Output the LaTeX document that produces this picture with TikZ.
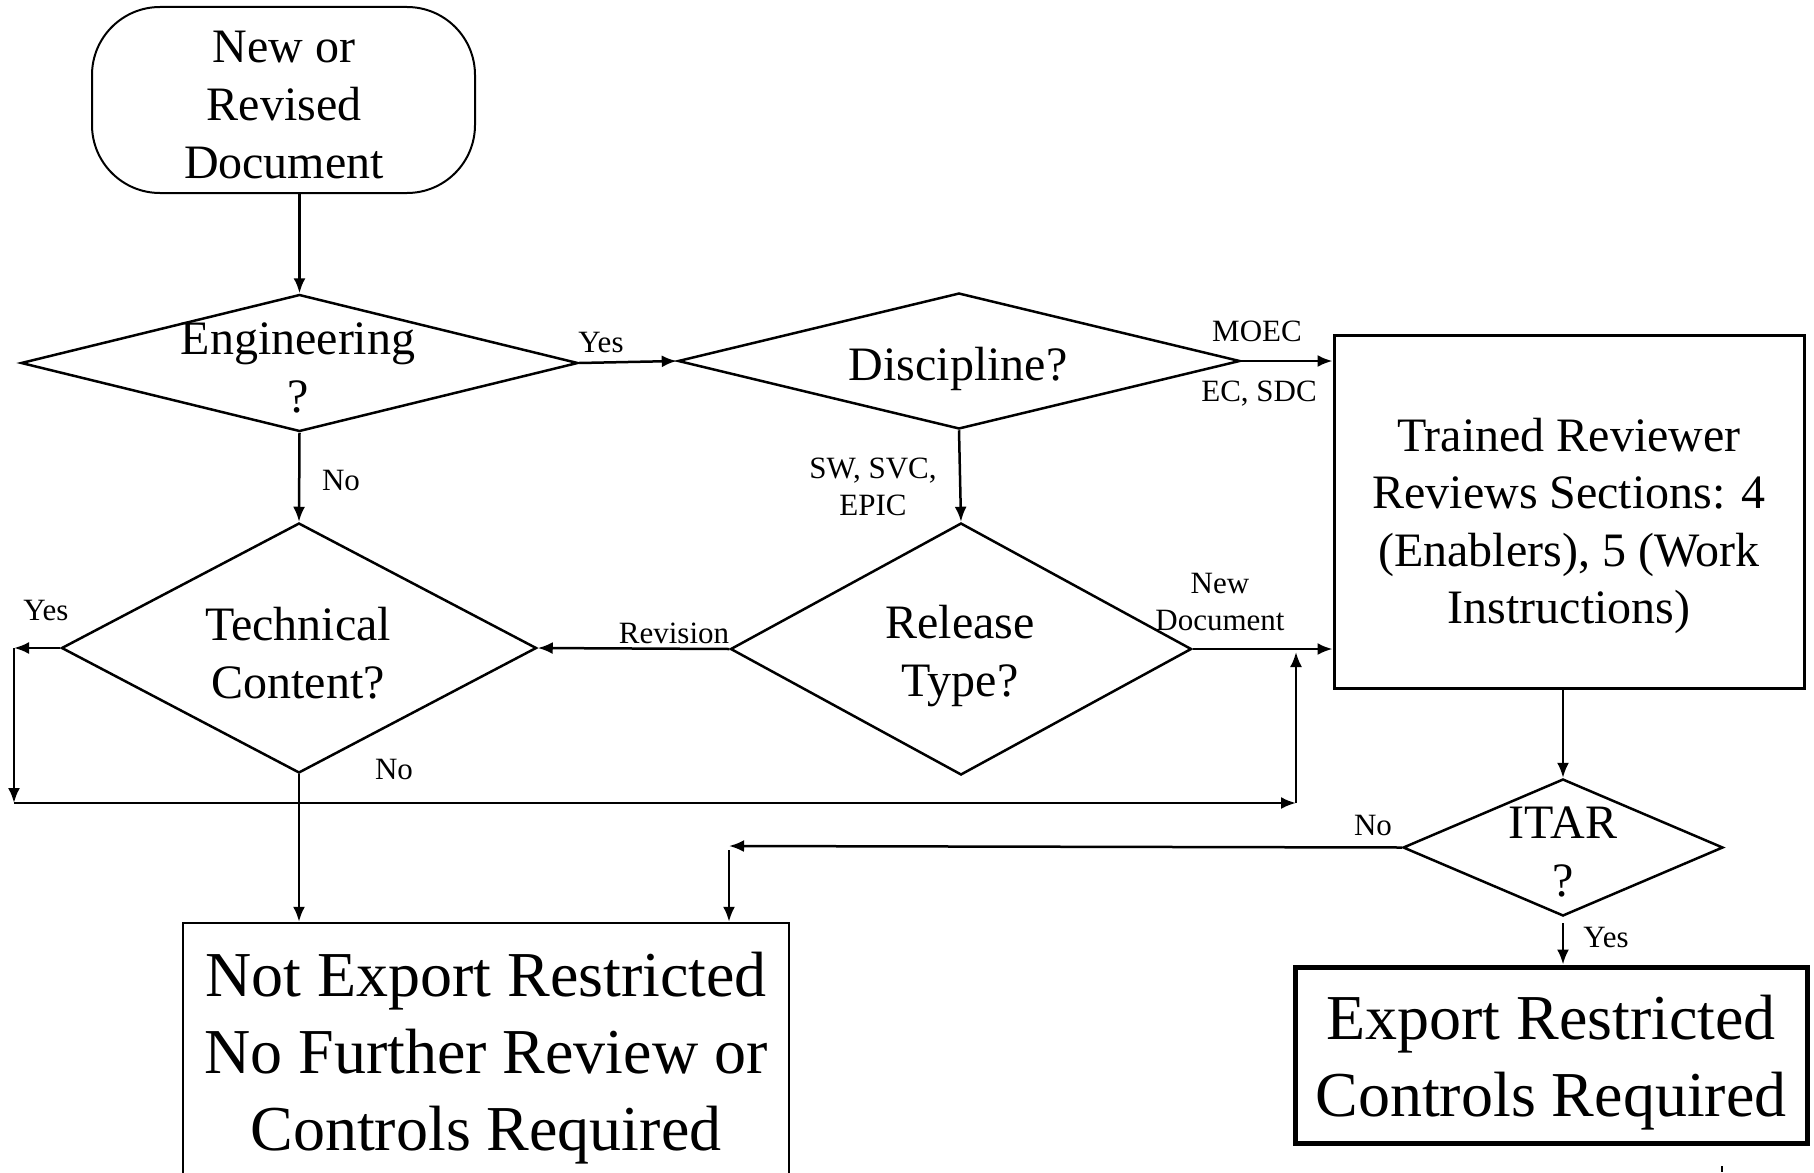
\documentclass[tikz,border=0pt]{standalone}
\usepackage{fontspec}
\setmainfont{Liberation Serif}
\usetikzlibrary{shapes.geometric,arrows.meta}
\begin{document}
\begin{tikzpicture}[
	x=1pt,
	y=-1pt,
	line width=2.5pt,
	>={Latex[length=15pt,width=12pt]},
	big/.style={font=\fontsize{48}{57.6}\selectfont, align=center, inner sep=0pt},
	huge/.style={font=\fontsize{64}{77}\selectfont, align=center, inner sep=0pt},
	lbl/.style={font=\fontsize{31}{37}\selectfont, align=center, inner sep=0pt},
	decision/.style={draw, diamond, inner sep=0pt},
	boxed/.style={draw, rectangle, inner sep=0pt},
	]
\useasboundingbox (0,0) rectangle (1814,1172);
\node[boxed, rounded corners=68pt, line width=2pt, minimum width=383pt, minimum height=186pt] (term) at (283.5,100) {};
\node[big] (termtext) at (284,105) {New or\\Revised\\Document};
\node[decision, minimum width=557pt, minimum height=137pt] (eng) at (299.5,363) {};
\node[big] (engtext) at (298,368) {Engineering\\?};
\node[decision, minimum width=562pt, minimum height=136pt] (disc) at (959,361) {};
\node[big] (disctext) at (958,369) {Discipline?};
\node[decision, minimum width=461pt, minimum height=252pt] (rel) at (961,649) {};
\node[big] (reltext) at (960,656) {Release\\Type?};
\node[decision, minimum width=475pt, minimum height=250pt] (tech) at (299,648) {};
\node[big] (techtext) at (298,653) {Technical\\Content?};
\node[boxed, line width=3pt, minimum width=470pt, minimum height=353pt] (review) at (1569,511.5) {};
\node[big] (reviewtext) at (1569,526) {Trained Reviewer\\Reviews Sections: 4\\(Enablers), 5 (Work\\Instructions)};
\node[decision, minimum width=320pt, minimum height=137pt] (itar) at (1563,847.5) {};
\node[big] (itartext) at (1563,852) {ITAR\\?};
\node[boxed, minimum width=606pt, minimum height=270pt] (notexp) at (486,1058) {};
\node[huge] (notexptext) at (486,1058) {Not Export Restricted\\No Further Review or\\Controls Required};
\node[boxed, line width=5pt, minimum width=512pt, minimum height=176pt] (exp) at (1551,1055) {};
\node[huge] (exptext) at (1551,1063) {Export Restricted\\Controls Required};
\node[lbl] (engyes) at (601,342) {Yes};
\node[lbl] (engno) at (341,480) {No};
\node[lbl] (moec) at (1257,331) {MOEC};
\node[lbl] (ecsdc) at (1259,394) {EC, SDC};
\node[lbl] (swsvc) at (873,487) {SW, SVC,\\EPIC};
\node[lbl] (revision) at (674,633) {Revision};
\node[lbl] (newdoc) at (1220,602) {New\\Document};
\node[lbl] (techyes) at (46,610) {Yes};
\node[lbl] (techno) at (394,769) {No};
\node[lbl] (itarno) at (1373,825) {No};
\node[lbl] (itaryes) at (1606,937) {Yes};
\coordinate (yesturn) at (14,648);
\coordinate (yesdown) at (14,803);
\coordinate (yesup) at (1296,803);
\coordinate (yesend) at (1296,652);
\coordinate (noturn) at (729,846);
\draw[->] (term.south -| eng.north) -- (eng.north);
\draw[->] (eng.east) -- (disc.west);
\draw[->] (disc.east) -- (disc.east -| review.west);
\draw[->] (disc.south) -- (rel.north);
\draw[->] (eng.south) -- (tech.north);
\draw[->] (rel.west) -- (tech.east);
\draw[->] (rel.east) -- (rel.east -| review.west);
\draw[->] (tech.west) -- (yesturn);
\draw[->] (yesturn) -- (yesdown);
\draw[->] (yesdown) -- (yesup);
\draw[->] (yesup) -- (yesend);
\draw[->] (tech.south) -- (tech.south |- notexp.north);
\draw[->] (review.south -| itar.north) -- (itar.north);
\draw[->] (itar.west) -- (noturn);
\draw[->] ([yshift=-4pt]noturn) -- (noturn |- notexp.north);
\draw[->] ([yshift=-6pt]itar.south) -- (itar.south |- exp.north);
\draw (1722,1166) -- (1722,1172);
\end{tikzpicture}
\end{document}
